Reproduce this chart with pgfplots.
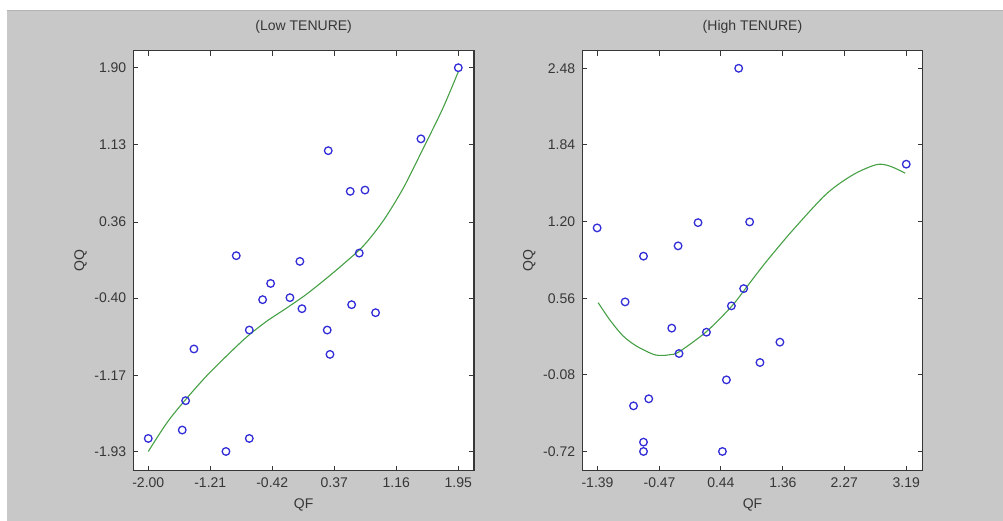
\documentclass[border=0pt]{standalone}
\usepackage{pgfplots}
\pgfplotsset{compat=1.18}
\usepackage{fontspec}
\setmainfont{Liberation Sans}
\definecolor{bgray}{RGB}{200,200,200}
\definecolor{mblue}{RGB}{50,45,215}
\definecolor{fitgreen}{RGB}{70,160,70}
\definecolor{axgray}{RGB}{55,55,55}
\pgfplotsset{
  panel/.style={
    scale only axis,
    width=170.4pt, height=210pt,
    anchor=south west,
    axis background/.style={fill=white},
    axis line style={axgray, line width=0.6pt},
    tick style={axgray, line width=0.5pt},
    tick align=inside,
    major tick length=2.5pt,
    xtick pos=both, ytick pos=both,
    font=\fontsize{7}{8.4}\selectfont,
    ticklabel style={text=axgray},
    label style={text=axgray},
    title style={text=axgray, yshift=-1pt},
    xticklabel style={/pgf/number format/.cd, fixed, fixed zerofill, precision=2, assume math mode=true},
    yticklabel style={/pgf/number format/.cd, fixed, fixed zerofill, precision=2, assume math mode=true},
    xlabel=QF, ylabel=QQ,
    xlabel style={yshift=1pt},
    ylabel style={yshift=-3pt},
  },
  pts/.style={only marks, mark=o, mark size=1.9pt, mark options={mblue, line width=0.65pt}},
  fit/.style={fitgreen, line width=0.55pt, smooth, no marks},
}
\begin{document}
\begin{tikzpicture}[x=1pt,y=1pt]
\fill[bgray] (0,0) rectangle (501.5,260.5);
\fill[white] (0,255.5) rectangle (501.5,260.5);
\fill[white] (0,0) rectangle (3.5,260.5);
\draw[gray!60, line width=0.4pt] (3.5,255.5) -- (501.5,255.5);

% Low TENURE
\begin{axis}[panel, at={(66.7pt,25.15pt)},
  title={(Low TENURE)},
  xmin=-2.19, xmax=2.15, ymin=-2.12, ymax=2.07,
  xtick={-2.00,-1.21,-0.42,0.37,1.16,1.95},
  ytick={-1.93,-1.17,-0.40,0.36,1.13,1.90}]
\addplot[pts] coordinates {
 (1.95,1.90) (1.474,1.19) (0.293,1.072) (0.573,0.666) (0.761,0.679)
 (-0.879,0.024) (-0.068,-0.033) (0.688,0.05) (-0.441,-0.253) (-0.543,-0.415)
 (-0.195,-0.395) (-0.042,-0.505) (-0.713,-0.718) (-1.418,-0.907) (-1.524,-1.423)
 (-1.567,-1.716) (-2.0,-1.80) (-1.01,-1.93) (-0.713,-1.80) (0.28,-0.718)
 (0.315,-0.961) (0.591,-0.465) (0.896,-0.545)
};
\addplot[fit] coordinates {
 (-2.0,-1.93) (-1.75,-1.63) (-1.5,-1.39) (-1.25,-1.17) (-1.0,-0.975)
 (-0.75,-0.79) (-0.5,-0.635) (-0.25,-0.505) (0,-0.37) (0.25,-0.215)
 (0.5,-0.05) (0.75,0.13) (1.0,0.38) (1.25,0.70) (1.5,1.09)
 (1.75,1.49) (1.95,1.86)
};
\end{axis}

% High TENURE
\begin{axis}[panel, at={(291.2pt,25.15pt)},
  title={(High TENURE)},
  xmin=-1.618, xmax=3.436, ymin=-0.879, ymax=2.627,
  xtick={-1.39,-0.47,0.44,1.36,2.27,3.19},
  ytick={-0.72,-0.08,0.56,1.20,1.84,2.48}]
\addplot[pts] coordinates {
 (0.704,2.48) (3.19,1.679) (-1.396,1.147) (0.101,1.191) (0.867,1.197)
 (-0.195,0.997) (-0.708,0.911) (-0.981,0.529) (0.778,0.640) (0.596,0.496)
 (-0.289,0.310) (0.226,0.276) (-0.181,0.098) (1.316,0.193) (1.02,0.023)
 (0.522,-0.122) (-0.63,-0.28) (-0.856,-0.339) (-0.708,-0.642) (-0.708,-0.72)
 (0.463,-0.72)
};
\addplot[fit] coordinates {
 (-1.381,0.523) (-1.208,0.379) (-1.011,0.245) (-0.812,0.160) (-0.566,0.092)
 (-0.44,0.082) (-0.318,0.088) (-0.181,0.112) (0.226,0.281) (0.596,0.490)
 (0.818,0.650) (1.015,0.795) (1.164,0.90) (1.509,1.130) (2.004,1.43)
 (2.398,1.59) (2.745,1.675) (2.942,1.664) (3.175,1.604)
};
\end{axis}
\end{tikzpicture}
\end{document}
